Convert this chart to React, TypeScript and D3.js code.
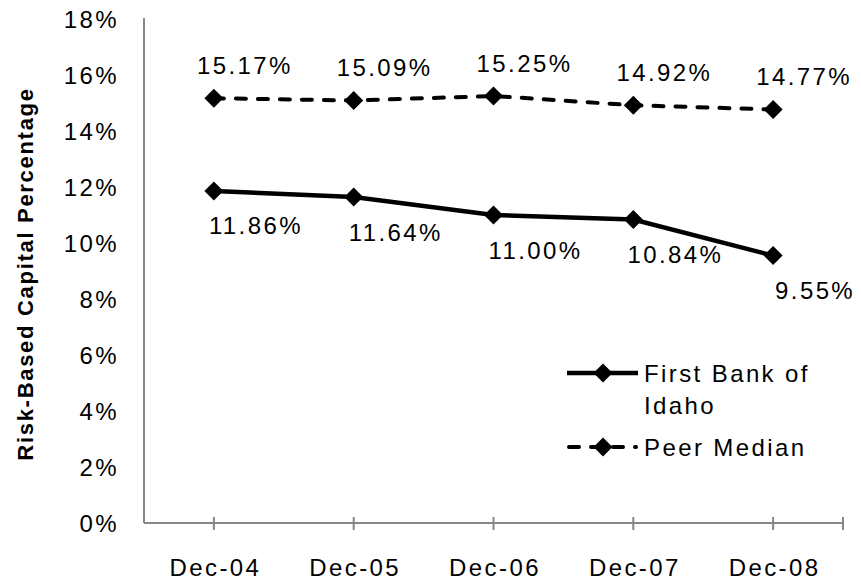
import React from "react";
import * as d3 from "d3";

// Year-end periods and risk-based capital ratios (%)
const periods = ["Dec-04", "Dec-05", "Dec-06", "Dec-07", "Dec-08"];
const bankValues = [11.86, 11.64, 11.0, 10.84, 9.55];
const peerValues = [15.17, 15.09, 15.25, 14.92, 14.77];
const yTicks = [0, 2, 4, 6, 8, 10, 12, 14, 16, 18];

const bankName = "First Bank of";
const bankName2 = "Idaho";
const peerName = "Peer Median";
const yTitle = "Risk-Based Capital Percentage";

const W = 861;
const H = 579;
const left = 144;
const right = 843;
const top = 19;
const bottom = 523;

const FONT = "'Liberation Sans', Arial, sans-serif";
const AXIS = "#868686";

const diamond = (cx: number, cy: number, r = 9.5) =>
  `M${cx},${cy - r}L${cx + r},${cy}L${cx},${cy + r}L${cx - r},${cy}Z`;

export default function App() {
  const x = d3.scalePoint<string>().domain(periods).range([left, right]).padding(0.5);
  const y = d3.scaleLinear().domain([0, 18]).range([bottom, top]);

  const line = d3
    .line<number>()
    .x((_, i) => x(periods[i]) as number)
    .y((d) => y(d));

  const fmt = (v: number) => `${v.toFixed(2)}%`;
  const tickXs = [...periods.map((p) => x(p) as number), right];

  const txt = {
    fontFamily: FONT,
    fontSize: 24,
    letterSpacing: 2.4,
    fill: "#000",
  } as const;

  const dash = "10,12";

  return (
    <svg
      width={W}
      height={H}
      style={{ position: "absolute", left: 0, top: 0, background: "#fff" }}
    >
      {/* axes */}
      <line x1={left} x2={left} y1={top - 1} y2={bottom} stroke={AXIS} strokeWidth={2} />
      <line x1={left} x2={right} y1={bottom} y2={bottom} stroke={AXIS} strokeWidth={2} />
      {tickXs.map((tx, i) => (
        <line key={i} x1={tx} x2={tx} y1={bottom - 6} y2={bottom + 7} stroke={AXIS} strokeWidth={2} />
      ))}

      {yTicks.map((t) => (
        <text key={t} x={119} y={y(t)} textAnchor="end" dominantBaseline="central" {...txt}>
          {`${t}%`}
        </text>
      ))}

      {periods.map((p) => (
        <text key={p} x={(x(p) as number) + 1.5} y={567} textAnchor="middle" dominantBaseline="central" {...txt}>
          {p}
        </text>
      ))}

      <text
        transform={`translate(25,${(top + bottom) / 2 + 3}) rotate(-90)`}
        textAnchor="middle"
        dominantBaseline="central"
        fontFamily={FONT}
        fontSize={22}
        fontWeight="bold"
        letterSpacing={1.7}
        fill="#000"
      >
        {yTitle}
      </text>

      {/* series */}
      <path d={line(peerValues) || ""} fill="none" stroke="#000" strokeWidth={4} strokeDasharray={dash} strokeLinecap="round" />
      <path d={line(bankValues) || ""} fill="none" stroke="#000" strokeWidth={4.5} />

      {peerValues.map((v, i) => (
        <path key={`pm${i}`} d={diamond(x(periods[i]) as number, y(v))} fill="#000" />
      ))}
      {bankValues.map((v, i) => (
        <path key={`bm${i}`} d={diamond(x(periods[i]) as number, y(v))} fill="#000" />
      ))}

      {peerValues.map((v, i) => (
        <text key={`pl${i}`} x={(x(periods[i]) as number) + 31} y={y(v) - 33} textAnchor="middle" dominantBaseline="central" {...txt}>
          {fmt(v)}
        </text>
      ))}
      {bankValues.map((v, i) => (
        <text key={`bl${i}`} x={(x(periods[i]) as number) + 42} y={y(v) + 35} textAnchor="middle" dominantBaseline="central" {...txt}>
          {fmt(v)}
        </text>
      ))}

      {/* legend */}
      <line x1={567} x2={638} y1={373} y2={373} stroke="#000" strokeWidth={4.5} />
      <path d={diamond(603, 373)} fill="#000" />
      <text x={644} y={373} dominantBaseline="central" {...txt}>{bankName}</text>
      <text x={644} y={405} dominantBaseline="central" {...txt}>{bankName2}</text>

      <line x1={569} x2={636} y1={447} y2={447} stroke="#000" strokeWidth={4} strokeDasharray={dash} strokeLinecap="round" />
      <path d={diamond(603, 447)} fill="#000" />
      <text x={644} y={447} dominantBaseline="central" {...txt}>{peerName}</text>
    </svg>
  );
}
